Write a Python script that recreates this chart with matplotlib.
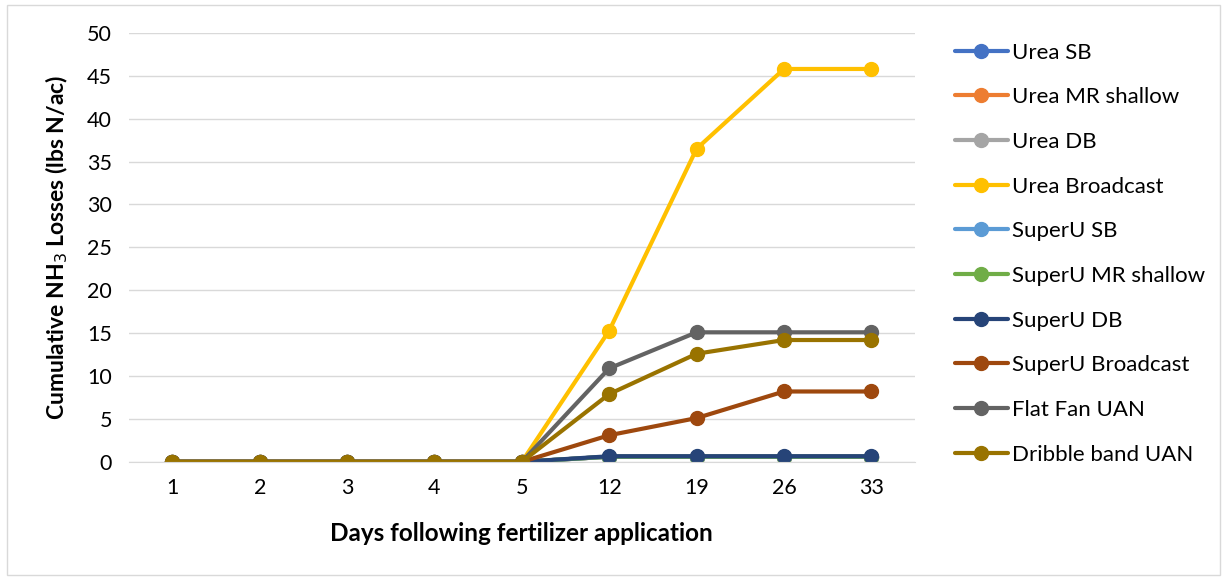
import numpy as np
import matplotlib.pyplot as plt
from matplotlib.patches import Rectangle

days = ['1', '2', '3', '4', '5', '12', '19', '26', '33']

urea_sb = [0, 0, 0, 0, 0, 0.6, 0.6, 0.6, 0.6]
urea_mr = [0, 0, 0, 0, 0, 0.6, 0.6, 0.6, 0.6]
urea_db = [0, 0, 0, 0, 0, 0.6, 0.6, 0.6, 0.6]
urea_bc = [0, 0, 0, 0, 0, 15.3, 36.5, 45.8, 45.8]
superu_sb = [0, 0, 0, 0, 0, 0.6, 0.6, 0.6, 0.6]
superu_mr = [0, 0, 0, 0, 0, 0.6, 0.6, 0.6, 0.6]
superu_db = [0, 0, 0, 0, 0, 0.65, 0.65, 0.65, 0.65]
superu_bc = [0, 0, 0, 0, 0, 3.1, 5.1, 8.2, 8.2]
flat_fan = [0, 0, 0, 0, 0, 10.9, 15.1, 15.1, 15.1]
dribble = [0, 0, 0, 0, 0, 7.9, 12.6, 14.2, 14.2]

names = ['Urea SB', 'Urea MR shallow', 'Urea DB', 'Urea Broadcast', 'SuperU SB',
         'SuperU MR shallow', 'SuperU DB', 'SuperU Broadcast', 'Flat Fan UAN',
         'Dribble band UAN']
series = [urea_sb, urea_mr, urea_db, urea_bc, superu_sb, superu_mr, superu_db,
          superu_bc, flat_fan, dribble]
colors = ['#4472C4', '#ED7D31', '#A5A5A5', '#FFC000', '#5B9BD5', '#70AD47',
          '#264478', '#9E480E', '#636363', '#997300']

plt.rcParams['font.family'] = ['Lato', 'DejaVu Sans']

fig = plt.figure(figsize=(12.25, 5.78), dpi=100)
ax = fig.add_axes([0.105, 0.201, 0.642, 0.742])

x = np.arange(len(days))
for name, vals, c in zip(names, series, colors):
    ax.plot(x, vals, color=c, lw=3, marker='o', ms=10, label=name,
            solid_capstyle='round')

ax.set_xlim(-0.5, len(days) - 0.5)
ax.set_ylim(0, 50)
ax.set_yticks(np.arange(0, 51, 5))
ax.set_xticks(x)
ax.set_xticklabels(days)
ax.grid(axis='y', color='#D9D9D9', lw=1)
ax.set_axisbelow(True)
for s in ['top', 'right', 'left']:
    ax.spines[s].set_visible(False)
ax.spines['bottom'].set_color('#D9D9D9')
ax.tick_params(length=0, labelsize=15.5, colors='#000000', pad=12)
ax.set_ylabel('Cumulative NH$_3$ Losses (lbs N/ac)', fontsize=16.5,
              fontweight='bold', labelpad=12)
ax.set_xlabel('Days following fertilizer application', fontsize=17.5,
              fontweight='bold', labelpad=17)

fig.legend(loc='upper left', bbox_to_anchor=(0.763, 0.961), frameon=False,
           fontsize=16, handlelength=2.4, handletextpad=0.2,
           labelspacing=1.11)

fig.patches.append(Rectangle((0.006, 0.006), 0.99, 0.985, transform=fig.transFigure,
                             fill=False, edgecolor='#D9D9D9', lw=1))

fig.savefig('out.png', dpi=100)
